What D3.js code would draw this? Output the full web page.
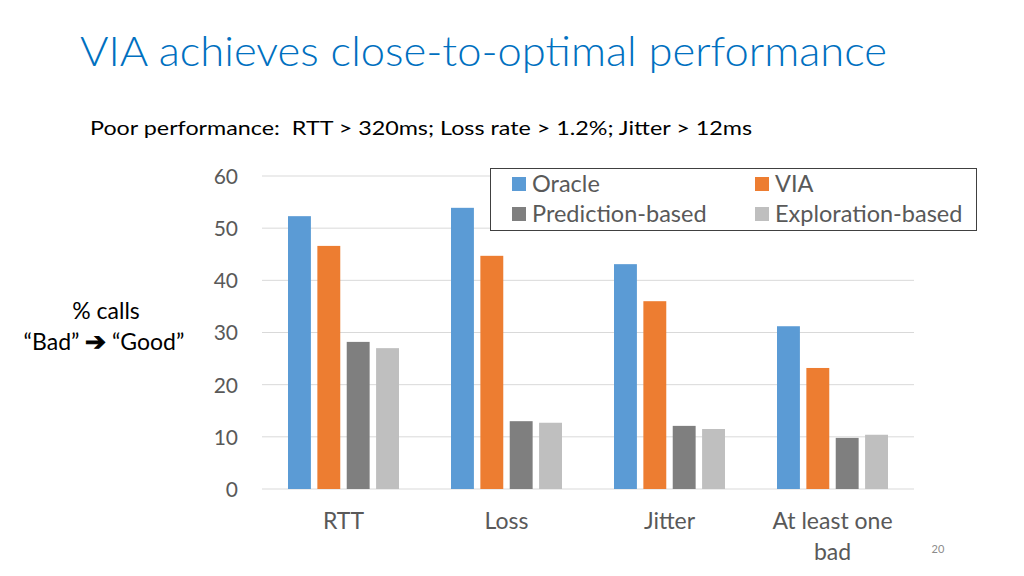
<!DOCTYPE html>
<html><head><meta charset="utf-8">
<script src="https://cdn.jsdelivr.net/npm/d3@7"></script>
<style>html,body{margin:0;padding:0;background:#fff;}svg{display:block;}text{white-space:pre;}</style>
</head><body>
<svg id="c" width="1024" height="576"></svg>
<script>
const categories = ["RTT", "Loss", "Jitter", "At least one bad"];
const seriesNames = ["Oracle", "VIA", "Prediction-based", "Exploration-based"];
const oracle = [52.3, 53.9, 43.1, 31.2];
const via = [46.6, 44.7, 36.0, 23.2];
const prediction = [28.2, 13.0, 12.1, 9.8];
const exploration = [27.0, 12.7, 11.5, 10.4];
const yTicks = [0, 10, 20, 30, 40, 50, 60];
const colors = ["#5B9BD5", "#ED7D31", "#7F7F7F", "#BFBFBF"];

const seriesValues = [oracle, via, prediction, exploration];
const font = "Lato, 'Open Sans', sans-serif";
const svg = d3.select("#c");

// title
svg.append("text").attr("x", 80).attr("y", 66).attr("fill", "#0070C0")
  .attr("font-family", font).attr("font-weight", 300).attr("font-size", 41).attr("textLength", 807)
  .attr("lengthAdjust", "spacingAndGlyphs")
  .text("VIA achieves close-to-optimal performance");
svg.append("text").attr("x", 90).attr("y", 135).attr("fill", "#000")
  .attr("font-family", font).attr("font-size", 20).attr("textLength", 662)
  .attr("lengthAdjust", "spacingAndGlyphs")
  .text("Poor performance:  RTT > 320ms; Loss rate > 1.2%; Jitter > 12ms");

const x = d3.scaleBand().domain(categories).range([262, 914]);
const inner = d3.scaleBand().domain(seriesNames).range([26, 137]).paddingInner(0.22);
const y = d3.scaleLinear().domain([0, 60]).range([489, 176]);

// grid
svg.append("g").selectAll("line").data(yTicks).join("line")
  .attr("x1", 262).attr("x2", 914)
  .attr("y1", d => y(d)).attr("y2", d => y(d))
  .attr("stroke", "#D9D9D9").attr("stroke-width", 1);

// y axis labels
const yAxis = d3.axisLeft(y).tickValues(yTicks).tickSize(0).tickPadding(0);
const ya = svg.append("g").attr("transform", "translate(238,0)").call(yAxis);
ya.select(".domain").remove();
ya.selectAll("text").attr("font-family", font).attr("font-size", 21).attr("fill", "#595959").attr("dy", "0.35em");

// bars
const groups = svg.append("g").selectAll("g").data(categories).join("g")
  .attr("transform", d => `translate(${x(d)},0)`);
groups.selectAll("rect").data((c, i) => seriesNames.map((s, j) => ({s, v: seriesValues[j][i], j})))
  .join("rect")
  .attr("x", d => inner(d.s)).attr("width", inner.bandwidth())
  .attr("y", d => y(d.v)).attr("height", d => y(0) - y(d.v))
  .attr("fill", d => colors[d.j]);

// x labels
const xl = svg.append("g").selectAll("text").data(categories).join("text")
  .attr("x", d => x(d) + x.bandwidth() / 2).attr("text-anchor", "middle")
  .attr("font-family", font).attr("font-size", 23).attr("fill", "#595959");
xl.each(function(d) {
  const t = d3.select(this);
  if (d === "At least one bad") {
    t.append("tspan").attr("x", x(d) + x.bandwidth() / 2).attr("y", 529).text("At least one");
    t.append("tspan").attr("x", x(d) + x.bandwidth() / 2).attr("y", 560).text("bad");
  } else {
    t.attr("y", 529).text(d);
  }
});

// legend
svg.append("rect").attr("x", 490.5).attr("y", 168.5).attr("width", 486).attr("height", 62)
  .attr("fill", "#fff").attr("stroke", "#404040").attr("stroke-width", 1);
const legPos = [[512, 184], [755, 184], [512, 214], [755, 214]];
seriesNames.forEach((s, i) => {
  const [lx, ly] = legPos[i];
  svg.append("rect").attr("x", lx).attr("y", ly - 7).attr("width", 14).attr("height", 14).attr("fill", colors[i]);
  svg.append("text").attr("x", lx + 20).attr("y", ly).attr("dy", "0.35em")
    .attr("font-family", font).attr("font-size", 23.5).attr("fill", "#595959").text(s);
});

// y label
svg.append("text").attr("x", 106).attr("y", 319).attr("text-anchor", "middle")
  .attr("font-family", font).attr("font-size", 23).attr("fill", "#000").text("% calls");
const yl = svg.append("text").attr("x", 104).attr("y", 350).attr("text-anchor", "middle")
  .attr("font-family", font).attr("font-size", 23).attr("fill", "#000");
yl.append("tspan").text("\u201CBad\u201D ");
yl.append("tspan").attr("font-family", "DejaVu Sans").attr("font-weight", "bold").attr("font-size", 25)
  .attr("stroke", "#000").attr("stroke-width", 1).text("\u2794");
yl.append("tspan").text(" \u201CGood\u201D");

// page number
svg.append("text").attr("x", 938).attr("y", 553).attr("text-anchor", "middle")
  .attr("font-family", font).attr("font-size", 11).attr("fill", "#8C8C8C").text("20");
</script>
</body></html>
